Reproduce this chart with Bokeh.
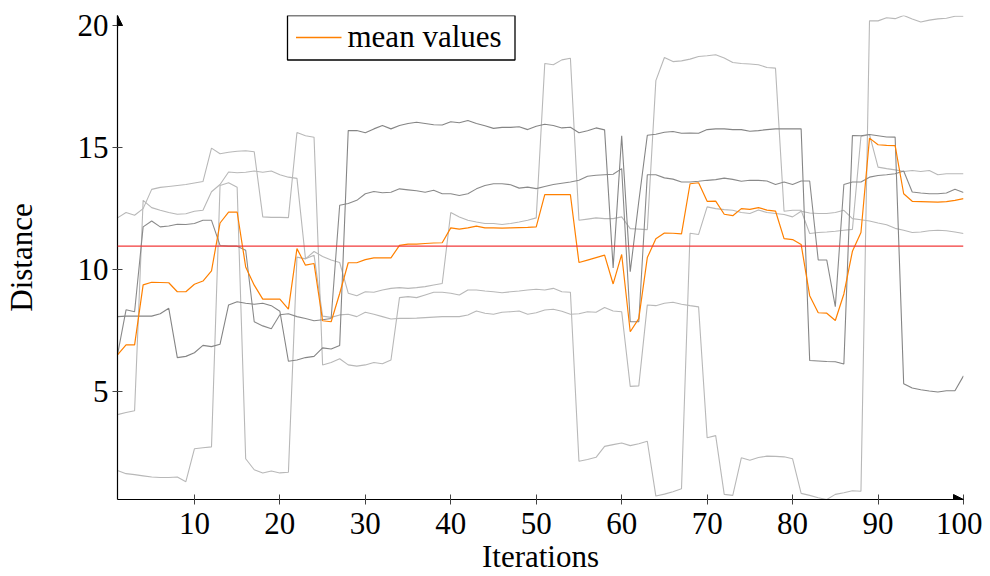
from bokeh.plotting import figure
from bokeh.models import (Range1d, FixedTicker, Arrow, NormalHead, Span, BoxAnnotation, Label)
from bokeh.embed import file_html
from bokeh.resources import INLINE

iterations = list(range(1, 101))

run_a = [12.13, 12.35, 12.24, 12.51, 13.3, 13.38, 13.42, 13.46, 13.5, 13.56,
         13.62, 14.99, 14.76, 14.82, 14.86, 14.88, 14.84, 12.17, 12.15, 12.15,
         12.14, 15.63, 15.5, 15.44, 6.1, 6.2, 6.35, 6.1, 6.05, 6.1,
         6.2, 6.15, 6.3, 8.86, 8.9, 8.86, 8.97, 9.08, 9.08, 9.04,
         8.97, 9.17, 9.17, 9.13, 9.1, 9.06, 9.1, 9.13, 9.17, 9.2,
         9.17, 9.24, 9.1, 9.08, 2.15, 2.22, 2.31, 2.76, 2.83, 2.9,
         2.79, 2.87, 2.97, 0.72, 0.8, 0.9, 1.02, 11.5, 11.45, 12.58,
         12.51, 12.47, 12.44, 12.35, 12.31, 12.45, 12.35, 12.31, 12.27, 12.17,
         12.4, 12.33, 12.31, 12.31, 12.35, 12.44, 12.1, 12.05, 12.0, 11.92,
         11.85, 11.7, 11.62, 11.53, 11.55, 11.6, 11.62, 11.6, 11.55, 11.49]
run_c = [4.06, 4.15, 4.22, 12.85, 12.55, 12.44, 12.35, 12.28, 12.3, 12.4,
         12.44, 13.2, 13.5, 14.01, 13.98, 14.0, 14.05, 14.0, 14.05, 13.9,
         13.8, 13.75, 10.45, 10.75, 10.55, 10.4, 10.3, 9.04, 8.94, 9.1,
         9.08, 9.17, 9.24, 9.27, 9.24, 9.27, 9.31, 9.38, 9.44, 12.35,
         12.17, 12.03, 11.96, 11.9, 11.9, 11.86, 11.9, 11.96, 12.03, 12.13,
         18.46, 18.41, 18.61, 18.68, 12.03, 12.08, 12.13, 12.1, 12.1, 12.17,
         11.69, 11.67, 11.65, 17.76, 18.71, 18.54, 18.57, 18.64, 18.75, 18.78,
         18.82, 18.69, 18.5, 18.46, 18.44, 18.41, 18.3, 18.27, 12.4, 12.44,
         12.44, 11.49, 11.53, 11.55, 11.58, 11.62, 11.66, 15.47, 15.55, 14.21,
         14.15, 14.1, 14.03, 14.07, 14.03, 14.07, 13.9, 13.94, 13.94, 13.94]
run_d = [1.77, 1.64, 1.6, 1.55, 1.5, 1.48, 1.48, 1.5, 1.31, 2.66,
         2.7, 2.74, 13.46, 13.57, 13.39, 2.25, 1.8, 1.67, 1.75, 1.67,
         1.7, 10.52, 10.45, 10.6, 8.1, 8.05, 8.15, 8.18, 8.08, 8.26,
         8.18, 8.08, 7.98, 8.01, 8.01, 8.02, 8.04, 8.06, 8.08, 8.08,
         8.08, 8.15, 8.31, 8.22, 8.18, 8.26, 8.28, 8.31, 8.18, 8.24,
         8.35, 8.38, 8.3, 8.18, 8.2, 8.28, 8.26, 8.45, 8.31, 8.28,
         5.22, 5.24, 8.56, 8.53, 8.63, 8.67, 8.59, 8.53, 8.48, 3.11,
         3.2, 0.79, 0.75, 2.29, 2.19, 2.3, 2.36, 2.35, 2.33, 2.25,
         0.83, 0.75, 0.65, 0.58, 0.79, 0.86, 0.94, 0.92, 20.21, 20.21,
         20.34, 20.3, 20.43, 20.29, 20.16, 20.24, 20.29, 20.32, 20.4, 20.4]
run_f = [6.51, 8.36, 8.28, 11.76, 12.0, 11.76, 11.8, 11.87, 11.86, 11.9,
         12.03, 12.03, 11.0, 10.97, 10.97, 10.8, 7.87, 7.7, 7.58, 8.16,
         8.2, 8.08, 8.0, 7.91, 7.95, 8.0, 12.65, 12.72, 12.85, 13.12,
         13.21, 13.16, 13.18, 13.32, 13.28, 13.24, 13.18, 13.26, 13.12, 13.12,
         13.05, 13.12, 13.32, 13.46, 13.53, 13.53, 13.49, 13.35, 13.39, 13.33,
         13.42, 13.5, 13.55, 13.6, 13.67, 13.84, 13.88, 13.9, 13.92, 14.15,
         7.87, 7.87, 13.9, 13.9, 13.77, 13.72, 13.6, 13.6, 13.63, 13.67,
         13.7, 13.76, 13.71, 13.63, 13.67, 13.67, 13.64, 13.5, 13.6, 13.5,
         13.64, 13.64, 10.4, 10.4, 8.49, 13.5, 13.6, 13.6, 13.8, 13.87,
         13.9, 13.94, 14.05, 13.19, 13.15, 13.12, 13.12, 13.15, 13.3, 13.17]
run_g = [8.08, 8.1, 8.1, 8.1, 8.1, 8.2, 8.42, 6.4, 6.45, 6.6,
         6.9, 6.85, 6.95, 8.56, 8.69, 8.63, 8.59, 8.63, 8.53, 8.3,
         6.25, 6.3, 6.4, 6.45, 6.8, 6.75, 6.9, 15.71, 15.71, 15.62,
         15.78, 15.92, 15.78, 15.92, 16.0, 16.05, 16.0, 15.95, 15.94, 16.07,
         16.03, 16.12, 16.0, 15.91, 15.8, 15.84, 15.84, 15.87, 15.75, 15.89,
         15.97, 15.92, 15.82, 15.85, 15.62, 15.7, 15.82, 15.74, 10.08, 15.5,
         9.92, 12.8, 15.52, 15.56, 15.64, 15.67, 15.6, 15.61, 15.6, 15.75,
         15.78, 15.78, 15.75, 15.75, 15.68, 15.71, 15.75, 15.78, 15.78, 15.78,
         15.78, 6.28, 6.26, 6.24, 6.23, 6.14, 15.51, 15.5, 15.55, 15.5,
         15.45, 15.44, 5.33, 5.15, 5.08, 5.03, 4.99, 5.04, 5.04, 5.65]

mean_values = [6.51, 6.92, 6.92, 9.38, 9.49, 9.48, 9.47, 9.1, 9.1, 9.41,
               9.54, 9.96, 11.92, 12.37, 12.37, 10.12, 9.37, 8.8, 8.8, 8.8,
               8.39, 10.87, 10.19, 10.26, 7.91, 7.87, 9.03, 10.29, 10.29, 10.42,
               10.49, 10.49, 10.49, 11.0, 11.05, 11.05, 11.08, 11.1, 11.11, 11.72,
               11.67, 11.72, 11.79, 11.72, 11.72, 11.71, 11.72, 11.73, 11.74, 11.76,
               13.08, 13.08, 13.08, 13.08, 10.3, 10.4, 10.5, 10.6, 9.42, 10.63,
               7.46, 8.0, 10.5, 11.27, 11.51, 11.5, 11.47, 13.53, 13.57, 12.81,
               12.82, 12.28, 12.22, 12.51, 12.48, 12.55, 12.45, 12.41, 11.28, 11.24,
               11.04, 8.94, 8.24, 8.22, 7.92, 9.01, 10.76, 11.53, 15.4, 15.13,
               15.1, 15.09, 13.12, 12.81, 12.8, 12.79, 12.78, 12.8, 12.85, 12.92]
overall_mean = 10.97

x_ticks = [10, 20, 30, 40, 50, 60, 70, 80, 90, 100]
y_ticks = [5, 10, 15, 20]
legend_label = "mean values"

runs = [run_a, run_c, run_d, run_f, run_g]
run_colors = ["#b8b8b8", "#b8b8b8", "#b8b8b8", "#8a8a8a", "#858585"]
MEAN_COLOR = "#ff8000"

FONT = "Liberation Serif"
FS = "31px"

ymin = min(min(r) for r in runs)
ymax = max(max(r) for r in runs)

p = figure(width=982, height=576, output_backend="svg", toolbar_location=None,
           x_range=Range1d(iterations[0], iterations[-1]), y_range=Range1d(ymin, ymax),
           min_border_left=116, min_border_right=19, min_border_top=15, min_border_bottom=76,
           background_fill_color="white", border_fill_color="white")
p.outline_line_color = None
p.grid.visible = False

for r, c in zip(runs, run_colors):
    p.line(iterations, r, line_color=c, line_width=1.1)

p.add_layout(Span(location=overall_mean, dimension="width", line_color="#f23a3a", line_width=1.3))
p.line(iterations, mean_values, line_color=MEAN_COLOR, line_width=1.2)

for ax in (p.xaxis[0], p.yaxis[0]):
    ax.axis_line_color = "black"
    ax.axis_line_width = 1.2
    ax.major_tick_line_color = "#444444"
    ax.major_tick_line_width = 1
    ax.major_tick_in = 5
    ax.major_tick_out = 5
    ax.minor_tick_line_color = None
    ax.major_label_text_font = FONT
    ax.major_label_text_font_size = FS
    ax.major_label_text_color = "black"
    ax.axis_label_text_font = FONT
    ax.axis_label_text_font_size = FS
    ax.axis_label_text_font_style = "normal"
    ax.axis_label_text_color = "black"

p.xaxis.ticker = FixedTicker(ticks=x_ticks)
p.yaxis.ticker = FixedTicker(ticks=y_ticks)
p.xaxis.axis_label = "Iterations"
p.yaxis.axis_label = "Distance"
p.xaxis.major_label_standoff = 8
p.yaxis.major_label_standoff = 4
p.xaxis.axis_label_standoff = 2
p.yaxis.axis_label_standoff = 36

# axis arrow heads
p.add_layout(Arrow(end=NormalHead(size=10, fill_color="black", line_color="black"),
                   x_start=iterations[-1] - 1, y_start=ymin, x_end=iterations[-1], y_end=ymin,
                   line_color="black", line_width=1.2))
p.add_layout(Arrow(end=NormalHead(size=10, fill_color="black", line_color="black"),
                   x_start=iterations[0], y_start=ymax - 0.5, x_end=iterations[0], y_end=ymax,
                   line_color="black", line_width=1.2))

# legend box (screen units, relative to the plot frame's bottom-left corner)
p.add_layout(BoxAnnotation(left=170, right=397.5, bottom=439.5, top=484,
                           left_units="screen", right_units="screen",
                           bottom_units="screen", top_units="screen",
                           fill_color="white", fill_alpha=1.0,
                           line_color="black", line_width=1.3, line_alpha=1.0))
p.add_layout(Arrow(end=None, x_start=178.5, y_start=462, x_end=224, y_end=462,
                   start_units="screen", end_units="screen",
                   line_color=MEAN_COLOR, line_width=1.3))
p.add_layout(Label(text=legend_label, x=230, y=463, x_units="screen", y_units="screen",
                   text_font=FONT, text_font_size=FS, text_color="black",
                   text_baseline="alphabetic", text_align="left"))

open("out.html", "w").write(file_html(p, INLINE))
